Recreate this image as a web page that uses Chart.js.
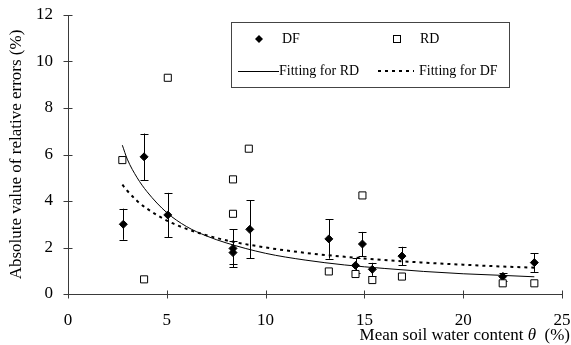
<!DOCTYPE html>
<html>
<head>
<meta charset="utf-8">
<script src="https://cdn.jsdelivr.net/npm/chart.js@4.4.1/dist/chart.umd.min.js"></script>
<style>
  html, body { margin: 0; padding: 0; background: #fff; }
  #wrap { width: 571px; height: 345px; }
</style>
</head>
<body>
<div id="wrap"><canvas id="chart" width="571" height="345"></canvas></div>
<script>
// mesures DF (losanges) avec barres d'erreur
const dfX   = [2.8, 3.85, 5.05, 8.35, 8.35, 9.2, 13.2, 14.55, 14.9, 15.4, 16.9, 22.0, 23.6];
const dfY   = [3.0, 5.9, 3.4, 1.96, 1.78, 2.78, 2.37, 1.23, 2.15, 1.06, 1.63, 0.75, 1.35];
const dfErr = [0.67, 1.0, 0.95, 0.82, 0.5, 1.25, 0.85, 0.32, 0.52, 0.28, 0.4, 0.17, 0.4];

// mesures RD (carrés)
const rdX = [2.75, 3.85, 5.05, 8.35, 8.35, 9.15, 13.2, 14.55, 14.9, 15.4, 16.9, 22.0, 23.6];
const rdY = [5.76, 0.63, 9.3, 4.93, 3.45, 6.25, 0.97, 0.86, 4.24, 0.6, 0.75, 0.46, 0.46];

// courbes d'ajustement
const fitX  = [2.75, 3, 3.5, 4, 5, 6, 7, 8, 10, 12, 14, 16, 18, 20, 22, 23.6];
const rdFit = [6.4, 5.8, 5.0, 4.4, 3.5, 2.9, 2.5, 2.2, 1.75, 1.46, 1.25, 1.1, 0.97, 0.87, 0.8, 0.74];
const dfFit = [4.7, 4.44, 4.0, 3.67, 3.16, 2.8, 2.53, 2.31, 2.0, 1.77, 1.6, 1.46, 1.35, 1.26, 1.18, 1.13];

const xTicks = [0, 5, 10, 15, 20, 25];
const yTicks = [0, 2, 4, 6, 8, 10, 12];

const pts = (xs, ys) => xs.map((x, i) => ({ x, y: ys[i] }));
const AXIS = '#3a3a3a';
const SERIF = '"Liberation Serif", "Times New Roman", serif';

// barres d'erreur sous les losanges
const errorBars = {
  id: 'errorBars',
  beforeDatasetsDraw(chart) {
    const { ctx, scales: { x, y } } = chart;
    ctx.save();
    ctx.strokeStyle = '#000';
    ctx.lineWidth = 1;
    dfX.forEach((v, i) => {
      const px = Math.round(x.getPixelForValue(v)) + 0.5;
      const top = y.getPixelForValue(dfY[i] + dfErr[i]);
      const bot = y.getPixelForValue(dfY[i] - dfErr[i]);
      ctx.beginPath();
      ctx.moveTo(px, top); ctx.lineTo(px, bot);
      ctx.moveTo(px - 4, Math.round(top) + 0.5); ctx.lineTo(px + 4, Math.round(top) + 0.5);
      ctx.moveTo(px - 4, Math.round(bot) + 0.5); ctx.lineTo(px + 4, Math.round(bot) + 0.5);
      ctx.stroke();
    });
    ctx.restore();
  }
};

// axes gauche/bas avec graduations croisées, titre x, légende encadrée
const decor = {
  id: 'decor',
  afterDraw(chart) {
    const { ctx, chartArea: a, scales: { x, y } } = chart;
    ctx.save();
    ctx.strokeStyle = AXIS;
    ctx.lineWidth = 1;
    const ax = Math.round(x.getPixelForValue(0)) + 0.5;
    const ay = Math.round(y.getPixelForValue(0)) + 0.5;
    ctx.beginPath();
    ctx.moveTo(ax, a.top); ctx.lineTo(ax, ay);
    ctx.moveTo(ax, ay); ctx.lineTo(a.right, ay);
    xTicks.forEach(t => {
      const px = Math.round(x.getPixelForValue(t)) + 0.5;
      ctx.moveTo(px, ay - 4); ctx.lineTo(px, ay + 4);
    });
    yTicks.forEach(t => {
      const py = Math.round(y.getPixelForValue(t)) + 0.5;
      ctx.moveTo(ax - 5, py); ctx.lineTo(ax + 4, py);
    });
    ctx.stroke();

    // titre de l'axe x, theta en italique
    ctx.fillStyle = '#000';
    ctx.textBaseline = 'middle';
    const ty = 336;
    const f = '17px ' + SERIF, fi = 'italic 17px ' + SERIF;
    const p1 = 'Mean soil water content ', p2 = '\u03B8', p3 = '  (%)';
    ctx.font = f;
    const w1 = ctx.measureText(p1).width, w3 = ctx.measureText(p3).width;
    ctx.font = fi;
    const w2 = ctx.measureText(p2).width;
    let tx = 570 - (w1 + w2 + w3);
    ctx.textAlign = 'left';
    ctx.font = f;  ctx.fillText(p1, tx, ty); tx += w1;
    ctx.font = fi; ctx.fillText(p2, tx, ty); tx += w2;
    ctx.font = f;  ctx.fillText(p3, tx, ty);

    // légende
    const L = { l: 231, t: 22, r: 509, b: 87 };
    ctx.fillStyle = '#fff';
    ctx.fillRect(L.l, L.t, L.r - L.l, L.b - L.t);
    ctx.strokeStyle = '#444';
    ctx.strokeRect(L.l + 0.5, L.t + 0.5, L.r - L.l, L.b - L.t);
    ctx.fillStyle = '#000';
    ctx.font = '14px ' + SERIF;
    ctx.textBaseline = 'middle';
    const r1 = 39, r2 = 71;
    // losange DF
    ctx.beginPath();
    ctx.moveTo(259, r1 - 4); ctx.lineTo(263, r1); ctx.lineTo(259, r1 + 4); ctx.lineTo(255, r1);
    ctx.closePath(); ctx.fill();
    ctx.fillText('DF', 282, r1);
    // carré RD
    ctx.strokeStyle = '#000';
    ctx.strokeRect(393.5, r1 - 3.5, 7, 7);
    ctx.fillText('RD', 420, r1);
    // lignes
    ctx.lineWidth = 1;
    ctx.beginPath(); ctx.moveTo(238, r2 + 0.5); ctx.lineTo(279, r2 + 0.5); ctx.stroke();
    ctx.fillText('Fitting for RD', 279, r2);
    ctx.lineWidth = 2;
    ctx.setLineDash([3, 4]);
    ctx.beginPath(); ctx.moveTo(378, r2); ctx.lineTo(414, r2); ctx.stroke();
    ctx.setLineDash([]);
    ctx.fillText('Fitting for DF', 419, r2);
    ctx.restore();
  }
};

new Chart(document.getElementById('chart').getContext('2d'), {
  type: 'scatter',
  data: {
    datasets: [
      {
        label: 'DF',
        data: pts(dfX, dfY),
        pointStyle: 'rectRot',
        pointRadius: 4,
        backgroundColor: '#000',
        borderColor: '#000',
        borderWidth: 1,
        order: 1
      },
      {
        label: 'RD',
        data: pts(rdX, rdY),
        pointStyle: 'rect',
        pointRadius: 5,
        backgroundColor: '#fff',
        borderColor: '#000',
        borderWidth: 1,
        order: 0
      },
      {
        label: 'Fitting for RD',
        type: 'line',
        data: pts(fitX, rdFit),
        borderColor: '#000',
        borderWidth: 1,
        pointRadius: 0,
        fill: false,
        cubicInterpolationMode: 'monotone',
        order: 3
      },
      {
        label: 'Fitting for DF',
        type: 'line',
        data: pts(fitX, dfFit),
        borderColor: '#000',
        borderWidth: 2,
        borderDash: [3, 4],
        pointRadius: 0,
        fill: false,
        cubicInterpolationMode: 'monotone',
        order: 2
      }
    ]
  },
  options: {
    responsive: false,
    animation: false,
    layout: { padding: { top: 15, right: 9, left: 0, bottom: 0 } },
    plugins: { legend: { display: false }, tooltip: { enabled: false } },
    scales: {
      x: {
        type: 'linear',
        min: 0, max: 25,
        afterBuildTicks: s => { s.ticks = xTicks.map(v => ({ value: v })); },
        afterFit: s => { s.height = 51; s.paddingLeft = 0; s.paddingRight = 0; },
        grid: { display: false, drawTicks: false },
        border: { display: false },
        ticks: { color: '#000', padding: 16, font: { family: SERIF, size: 17 } }
      },
      y: {
        type: 'linear',
        min: 0, max: 12,
        afterBuildTicks: s => { s.ticks = yTicks.map(v => ({ value: v })); },
        afterFit: s => { s.width = 68; s.paddingTop = 0; s.paddingBottom = 0; },
        grid: { display: false, drawTicks: false },
        border: { display: false },
        ticks: { color: '#000', padding: 15, font: { family: SERIF, size: 17 } },
        title: {
          display: true,
          text: 'Absolute value of relative errors (%)',
          color: '#000',
          font: { family: SERIF, size: 17 },
          padding: { top: 6, bottom: 0 }
        }
      }
    }
  },
  plugins: [errorBars, decor]
});
</script>
</body>
</html>
